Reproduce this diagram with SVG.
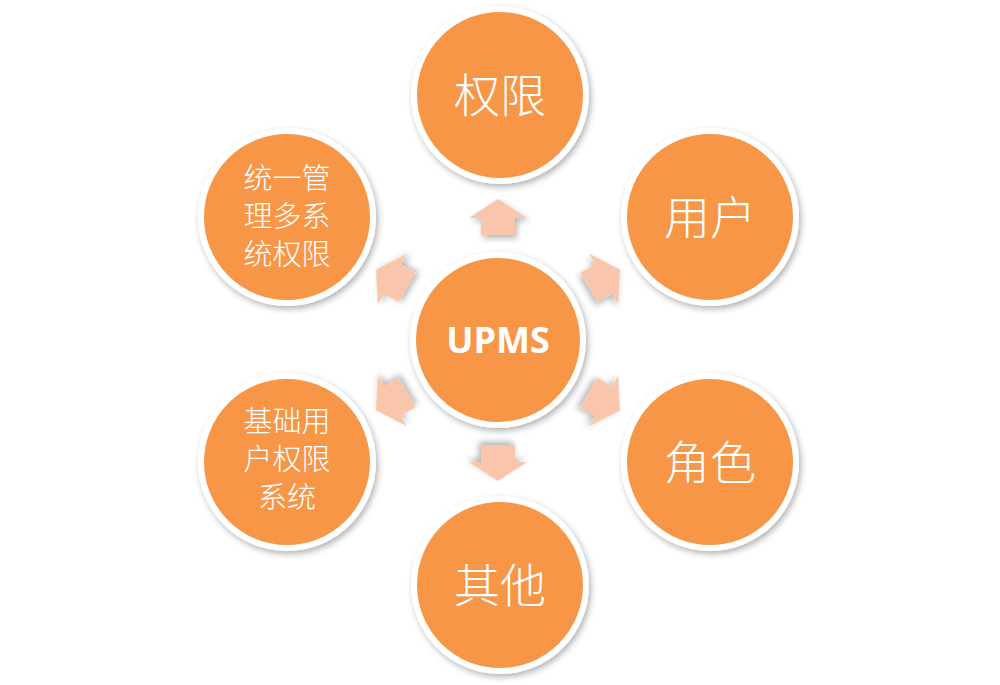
<svg xmlns="http://www.w3.org/2000/svg" width="1000" height="685" viewBox="0 0 1000 685">
<defs>
<filter id="sh" x="-20%" y="-20%" width="140%" height="140%"><feDropShadow dx="2" dy="3" stdDeviation="3" flood-color="#000" flood-opacity="0.3"/></filter>
<style>
.c{fill:#F79646;stroke:#fff;stroke-width:6;filter:url(#sh)}
.a{fill:#FAC6AB;filter:url(#sh)}
.t{fill:#fff;font-family:"Noto Sans CJK SC",sans-serif;text-anchor:middle}
.big{font-size:46px;font-weight:300}
.sm{font-size:29px;font-weight:300}
</style>
<polygon id="ar" points="0,-18 29,1 17,1 17,18 -17,18 -17,1 -29,1"/>
</defs>
<g id="connectors">
<use href="#ar" class="a" transform="rotate(0 498 340) translate(498 217)"/>
<use href="#ar" class="a" transform="rotate(60 498 340) translate(498 217)"/>
<use href="#ar" class="a" transform="rotate(120 498 340) translate(498 217)"/>
<use href="#ar" class="a" transform="rotate(180 498 340) translate(498 217)"/>
<use href="#ar" class="a" transform="rotate(240 498 340) translate(498 217)"/>
<use href="#ar" class="a" transform="rotate(300 498 340) translate(498 217)"/>
</g>
<g id="center"><circle class="c" cx="498" cy="340" r="85"/><text x="498" y="353" fill="#fff" font-family="'Open Sans',sans-serif" font-weight="bold" font-size="36" text-anchor="middle">UPMS</text></g>
<g id="n1"><circle class="c" cx="500" cy="95" r="86"/><text class="t big" x="500" y="112">权限</text></g>
<g id="n2"><circle class="c" cx="710" cy="217" r="86"/><text class="t big" x="710" y="234">用户</text></g>
<g id="n3"><circle class="c" cx="710" cy="462" r="86"/><text class="t big" x="710" y="479">角色</text></g>
<g id="n4"><circle class="c" cx="500" cy="585" r="86"/><text class="t big" x="500" y="602">其他</text></g>
<g id="n5"><circle class="c" cx="287" cy="462" r="86"/><text class="t sm" x="287" y="432">基础用</text><text class="t sm" x="287" y="470">户权限</text><text class="t sm" x="287" y="508">系统</text></g>
<g id="n6"><circle class="c" cx="287" cy="217" r="86"/><text class="t sm" x="287" y="189">统一管</text><text class="t sm" x="287" y="227">理多系</text><text class="t sm" x="287" y="265">统权限</text></g>
</svg>
